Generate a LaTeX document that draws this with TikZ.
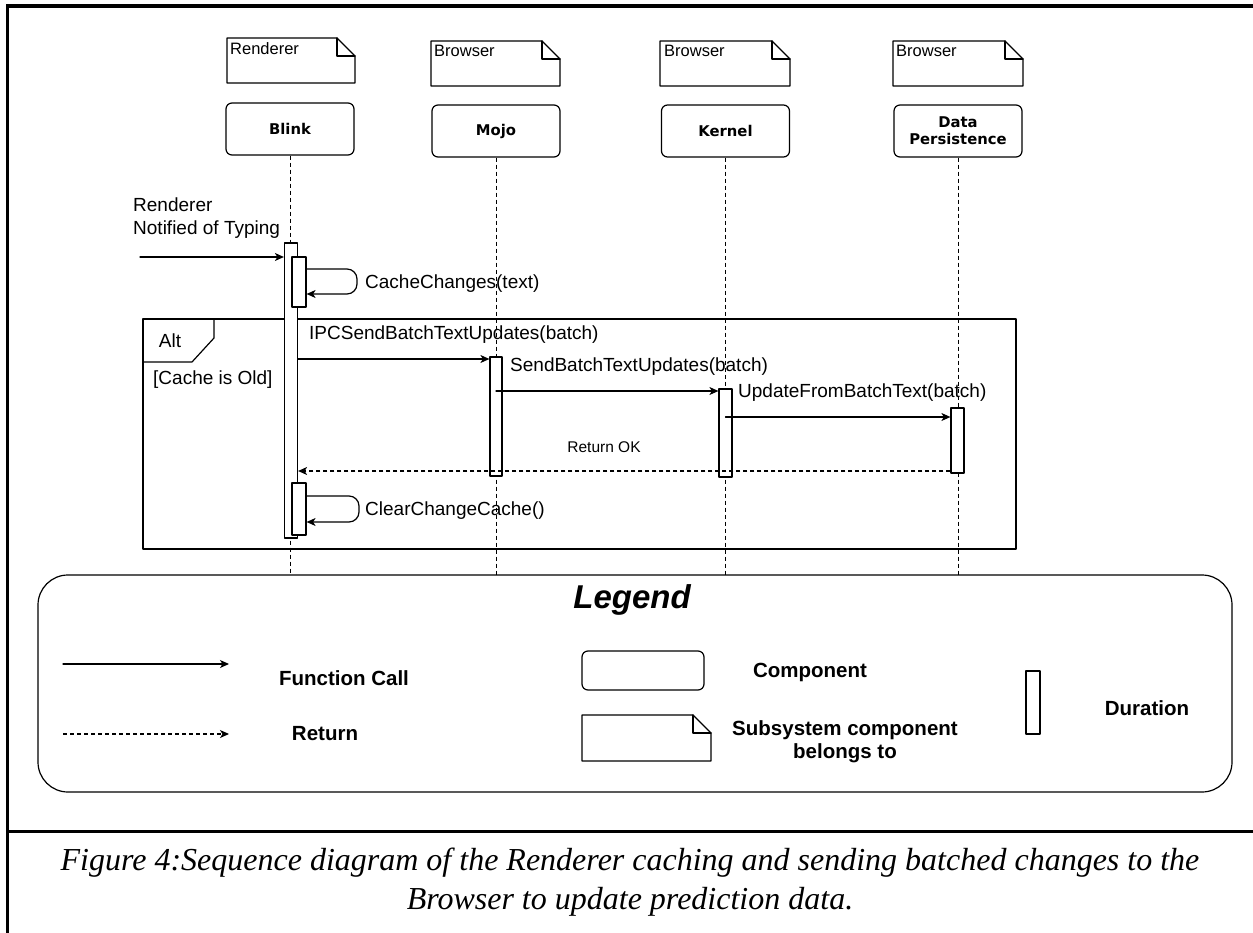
\documentclass[tikz,border=0pt]{standalone}
\usepackage{fontspec}
\setmainfont{Liberation Sans}
\newfontfamily\capfont{Liberation Serif}
\newfontfamily\compfont{DejaVu Sans}
\usepackage{tikz}
\usetikzlibrary{arrows.meta,positioning}

\tikzset{
  comp/.style={draw,line width=1.2pt,rounded corners=6pt,minimum width=128pt,minimum height=52pt,align=center,font=\compfont\bfseries\fontsize{14.8}{17}\selectfont},
  act/.style={draw,fill=white,line width=1.2pt,minimum width=13pt,inner sep=0pt},
  life/.style={line width=1pt,line cap=butt,dash pattern=on 4pt off 3pt},
  msg/.style={->,line width=1.2pt},
  ret/.style={->,line width=1.2pt,line cap=butt,dash pattern=on 4pt off 3pt},
  lbl/.style={inner sep=0pt,font=\fontsize{19}{23}\selectfont},
  sublbl/.style={inner sep=0pt,anchor=base west,font=\fontsize{16.5}{19}\selectfont},
  key/.style={inner sep=0pt,align=center,font=\bfseries\fontsize{20.5}{23}\selectfont}
}

\begin{document}
\begin{tikzpicture}[line cap=round,line join=round,>={Stealth[length=9pt,width=8pt,inset=2.5pt]},x=1pt,y=-1pt]
\useasboundingbox (0,0) rectangle (1253,933);
\clip (0,0) rectangle (1253,933);
\fill[white] (0,0) rectangle (1253,933);
% page frame
\draw[line width=3.5pt,line cap=butt] (7,6)-- (1253,6);
\draw[line width=3pt,line cap=butt] (7,4.25)-- (7,933);
\draw[line width=3pt,line cap=butt] (7,831)-- (1253,831);
% subsystem notes
\draw[line width=1.2pt] (227,38)-- (337,38)-- (355,56)-- (355,83)-- (227,83)-- cycle;
\draw[line width=1.2pt] (337,38)-- (337,56)-- (355,56);
\node[sublbl] (subblink) at (230,55) {Renderer};
\draw[line width=1.2pt] (431,41)-- (542,41)-- (560,59)-- (560,86)-- (431,86)-- cycle;
\draw[line width=1.2pt] (542,41)-- (542,59)-- (560,59);
\node[sublbl] (submojo) at (434,57) {Browser};
\draw[line width=1.2pt] (660,41)-- (772,41)-- (790,59)-- (790,86)-- (660,86)-- cycle;
\draw[line width=1.2pt] (772,41)-- (772,59)-- (790,59);
\node[sublbl] (subkernel) at (664,57) {Browser};
\draw[line width=1.2pt] (893,41)-- (1005,41)-- (1023,59)-- (1023,86)-- (893,86)-- cycle;
\draw[line width=1.2pt] (1005,41)-- (1005,59)-- (1023,59);
\node[sublbl] (subpersist) at (896,57) {Browser};
% components and lifelines
\node[comp] (blink) at (290,129) {Blink};
\node[comp] (mojo) at (496,131) {Mojo};
\node[comp] (kernel) at (725.5,131) {Kernel};
\node[comp] (persist) at (958,131) {Data\\Persistence};
\coordinate (blinkend) at (290,575);
\coordinate (mojoend) at (496,575);
\coordinate (kernelend) at (725.5,575);
\coordinate (persistend) at (958,575);
\draw[life] (blink)-- (blinkend);
\draw[life] (mojo)-- (mojoend);
\draw[life] (kernel)-- (kernelend);
\draw[life] (persist)-- (persistend);
% alt fragment
\draw[line width=1.2pt] (143,319) rectangle (1016,549);
\draw[line width=1.2pt] (143,362)-- (192,362)-- (214,338)-- (214,319);
\node[lbl] (alt) at (170,341) {Alt};
\node[lbl,anchor=west] (guard) at (153,380) {[Cache is Old]};
% durations
\node[act,minimum height=295pt] (blinkact) at (291,390.5) {};
\node[act,minimum width=14pt,minimum height=50pt] (cacheact) at (299,282) {};
\node[act,minimum width=14pt,minimum height=52pt] (clearact) at (299,509) {};
\node[act,minimum width=12pt,minimum height=119pt] (mojoact) at (496,416.5) {};
\node[act,minimum height=88pt] (kernelact) at (725.5,433) {};
\node[act,minimum height=65pt] (persistact) at (957.5,440.5) {};
% messages
\coordinate (typing) at (140,257);
\draw[msg] (typing)-- (typing -| blinkact.west);
\node[lbl,anchor=west,align=left] (typinglbl) at (133,218.5) {Renderer\\Notified of Typing};
\draw[msg,rounded corners=10pt] (cacheact.east |- 0,269)-- (357,269)-- (357,294)-- (cacheact.east |- 0,294);
\node[lbl,anchor=west] (cachelbl) at (365,284) {CacheChanges(text)};
\draw[msg] (blinkact.east |- 0,359)-- (mojoact.west |- 0,359);
\node[lbl,anchor=west] (ipclbl) at (309,335) {IPCSendBatchTextUpdates(batch)};
\draw[msg] (mojoact.center |- 0,391)-- (kernelact.west |- 0,391);
\node[lbl,anchor=west] (sendlbl) at (510,367) {SendBatchTextUpdates(batch)};
\draw[msg] (kernelact.center |- 0,417)-- (persistact.west |- 0,417);
\node[lbl,anchor=west] (updatelbl) at (738,393) {UpdateFromBatchText(batch)};
\draw[ret] (persistact.west |- 0,471)-- (blinkact.east |- 0,471);
\node[inner sep=0pt,font=\fontsize{15.5}{18}\selectfont] (oklbl) at (604,447) {Return OK};
\draw[msg,rounded corners=10pt] (clearact.east |- 0,496)-- (359,496)-- (359,522)-- (clearact.east |- 0,522);
\node[lbl,anchor=west] (clearlbl) at (365,511) {ClearChangeCache()};
% legend
\draw[line width=1.2pt,rounded corners=30pt] (38,575) rectangle (1232,792);
\node[inner sep=0pt,font=\bfseries\itshape\fontsize{33}{38}\selectfont] (legend) at (632,600) {Legend};
\coordinate (callA) at (63,664);
\coordinate (callB) at (229,664);
\draw[msg] (callA)-- (callB);
\node[key] (callkey) at (344,678) {Function Call};
\coordinate (retA) at (63,734);
\coordinate (retB) at (229,734);
\draw[ret] (retA)-- (retB);
\node[key] (retkey) at (325,734) {Return};
\node[comp,minimum width=122pt,minimum height=39pt] (compbox) at (643,670.5) {};
\node[key] (compkey) at (810,672) {Component};
\draw[line width=1.2pt] (582,715)-- (693,715)-- (711,733)-- (711,761)-- (582,761)-- cycle;
\draw[line width=1.2pt] (693,715)-- (693,733)-- (711,733);
\node[key] (subkey) at (845,741.5) {Subsystem component\\belongs to};
\node[act,minimum width=14pt,minimum height=63pt] (durbox) at (1033,702.5) {};
\node[key] (durkey) at (1147,708) {Duration};
% caption
\node[inner sep=0pt,align=center,font=\capfont\itshape\fontsize{32}{39}\selectfont] (caption) at (630,882.5) {Figure 4:Sequence diagram of the Renderer caching and sending batched changes to the\\Browser to update prediction data.};
\end{tikzpicture}
\end{document}
